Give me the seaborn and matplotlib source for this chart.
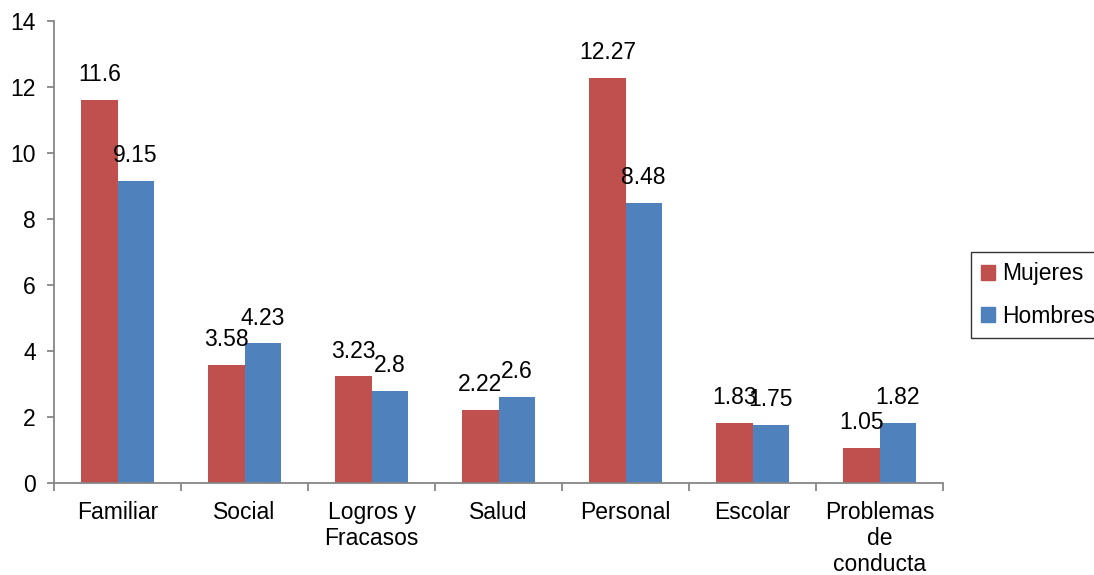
import matplotlib
matplotlib.use("Agg")
import matplotlib.pyplot as plt
import seaborn as sns
import pandas as pd
import numpy as np

categorias = ["Familiar", "Social", "Logros y\nFracasos", "Salud", "Personal", "Escolar", "Problemas\nde\nconducta"]
mujeres = [11.6, 3.58, 3.23, 2.22, 12.27, 1.83, 1.05]
hombres = [9.15, 4.23, 2.8, 2.6, 8.48, 1.75, 1.82]
series = ["Mujeres", "Hombres"]
colores = ["#C0504D", "#4F81BD"]
y_ticks = [0, 2, 4, 6, 8, 10, 12, 14]

df = pd.DataFrame({
    "categoria": categorias * 2,
    "valor": mujeres + hombres,
    "sexo": [series[0]] * len(categorias) + [series[1]] * len(categorias),
})

sns.set_style("white")
plt.rcParams["font.family"] = ["Liberation Sans", "DejaVu Sans"]
plt.rcParams["text.color"] = "black"
plt.rcParams["xtick.labelcolor"] = "black"
plt.rcParams["ytick.labelcolor"] = "black"

fs = 16.5
fig = plt.figure(figsize=(10.94, 5.75), dpi=100)
ax = fig.add_axes([0.0494, 0.16, 0.8126, 0.8035])

sns.barplot(data=df, x="categoria", y="valor", hue="sexo", palette=colores,
            width=0.57, gap=0, saturation=1, ax=ax, legend=False, errorbar=None,
            linewidth=0)

for cont in ax.containers:
    ax.bar_label(cont, labels=[f"{v:g}" for v in cont.datavalues],
                 padding=10, fontsize=fs, color="black")

gris = "#868686"
ax.set_ylim(0, 14)
ax.set_yticks(y_ticks)
ax.set_xlim(-0.5, len(categorias) - 0.5)
ax.set_xlabel("")
ax.set_ylabel("")
for side in ["top", "right"]:
    ax.spines[side].set_visible(False)
for side in ["left", "bottom"]:
    ax.spines[side].set_color(gris)
    ax.spines[side].set_linewidth(1.3)

ax.tick_params(axis="y", length=5, width=1.3, color=gris, labelsize=fs, pad=8, left=True)
ax.tick_params(axis="x", which="major", length=0, labelsize=fs, pad=13)
ax.set_xticks(np.arange(-0.5, len(categorias), 1.0), minor=True)
ax.tick_params(axis="x", which="minor", length=6, width=1.3, color=gris, bottom=True)
for lbl in ax.get_xticklabels():
    lbl.set_linespacing(1.17)

handles = [plt.Rectangle((0, 0), 1, 1, color=c) for c in colores]
leg = fig.legend(handles, series, loc="upper left", bbox_to_anchor=(971 / 1094, 1 - 252 / 575),
                 frameon=True, fancybox=False, fontsize=fs, handlelength=0.6, handleheight=0.6,
                 handletextpad=0.3, labelspacing=0.85, borderpad=0.45, borderaxespad=0)
leg.get_frame().set_edgecolor("black")
leg.get_frame().set_linewidth(1.0)

fig.savefig("out.png", dpi=100)
